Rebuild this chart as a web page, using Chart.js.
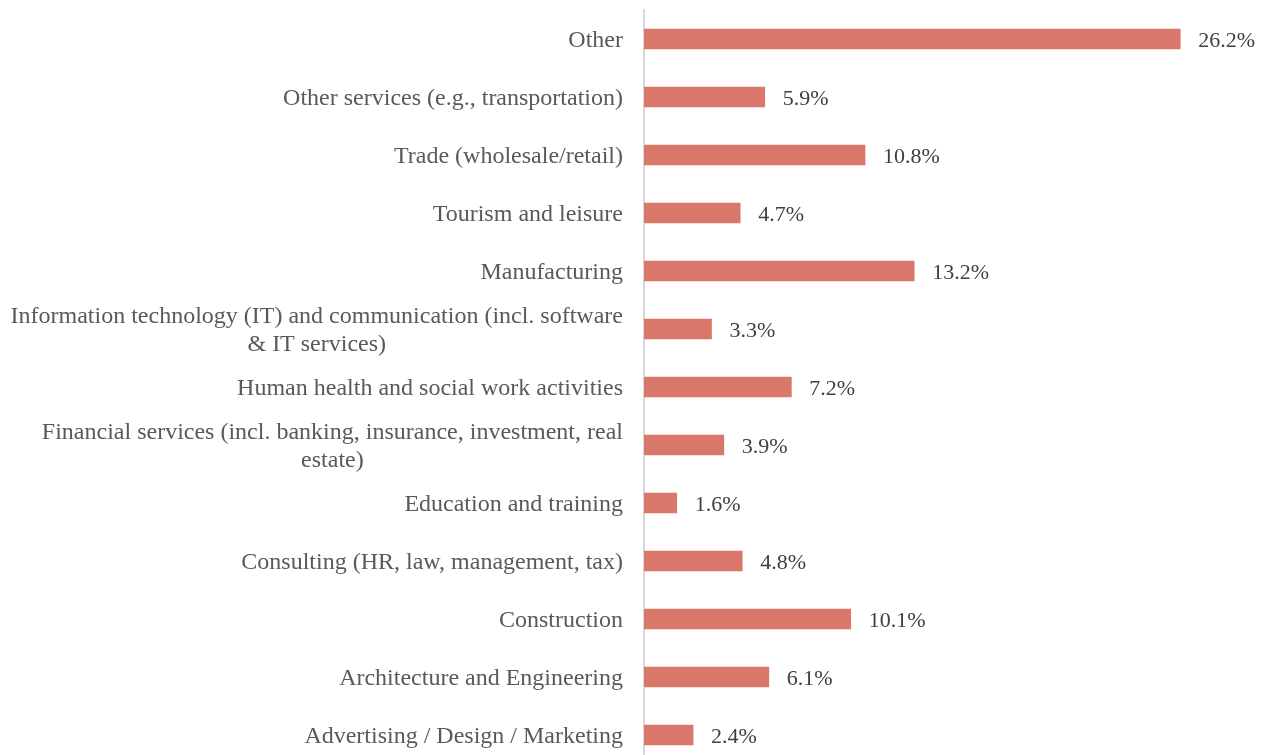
<!DOCTYPE html>
<html>
<head>
<meta charset="utf-8">
<script src="https://cdn.jsdelivr.net/npm/chart.js@4"></script>
<style>
    html, body { margin: 0; padding: 0; background: #ffffff; overflow: hidden; }
    #wrap { position: relative; width: 1268px; height: 764px; }
</style>
</head>
<body>
<div id="wrap"><canvas id="sectorChart"></canvas></div>
<script>
    // Sectors, top to bottom as in the picture
    const categories = [
        ['Other'],
        ['Other services (e.g., transportation)'],
        ['Trade (wholesale/retail)'],
        ['Tourism and leisure'],
        ['Manufacturing'],
        ['Information technology (IT) and communication (incl. software', '& IT services)'],
        ['Human health and social work activities'],
        ['Financial services (incl. banking, insurance, investment, real', 'estate)'],
        ['Education and training'],
        ['Consulting (HR, law, management, tax)'],
        ['Construction'],
        ['Architecture and Engineering'],
        ['Advertising / Design / Marketing']
    ];
    const shares = [26.2, 5.9, 10.8, 4.7, 13.2, 3.3, 7.2, 3.9, 1.6, 4.8, 10.1, 6.1, 2.4];

    const FONT = '"Liberation Serif", "Times New Roman", serif';

    // draws wrapped category labels (lines centred inside a right-aligned block) and value labels
    const labelPlugin = {
        id: 'labelPlugin',
        afterDatasetsDraw(chart) {
            const ctx = chart.ctx;
            const y = chart.scales.y;
            const meta = chart.getDatasetMeta(0);
            ctx.save();
            ctx.textBaseline = 'middle';
            const right = chart.chartArea.left - 21;
            const lineH = 28;
            categories.forEach((lines, i) => {
                const cy = y.getPixelForValue(i) + 2;
                ctx.font = '24px ' + FONT;
                ctx.fillStyle = '#595959';
                if (lines.length === 1) {
                    ctx.textAlign = 'right';
                    ctx.fillText(lines[0], right, cy);
                } else {
                    const w = Math.max(...lines.map(l => ctx.measureText(l).width));
                    ctx.textAlign = 'center';
                    const top = cy - (lines.length - 1) * lineH / 2;
                    lines.forEach((l, k) => ctx.fillText(l, right - w / 2, top + k * lineH));
                }
                const bar = meta.data[i];
                ctx.font = '22px ' + FONT;
                ctx.fillStyle = '#404040';
                ctx.textAlign = 'left';
                ctx.fillText(shares[i].toFixed(1) + '%', bar.x + 18, bar.y + 2);
            });
            ctx.restore();
        }
    };

    try {
        const ctx = document.getElementById('sectorChart');
        new Chart(ctx, {
            type: 'bar',
            data: {
                labels: categories.map(c => c.join(' ')),
                datasets: [{
                    data: shares,
                    backgroundColor: '#d9776b',
                    borderWidth: 0,
                    barThickness: 20
                }]
            },
            options: {
                indexAxis: 'y',
                responsive: true,
                maintainAspectRatio: false,
                animation: false,
                layout: { padding: { top: 10, right: 10, bottom: 0, left: 0 } },
                plugins: {
                    legend: { display: false },
                    tooltip: { enabled: false }
                },
                scales: {
                    x: { display: false, min: 0, max: 30 },
                    y: {
                        grid: { display: false },
                        border: { display: true, color: '#d9d9d9', width: 2 },
                        ticks: { display: false },
                        afterFit: s => { s.width = 644; }
                    }
                }
            },
            plugins: [labelPlugin]
        });
    } catch (err) {
        console.error('chart init error', err);
    }
</script>
</body>
</html>
